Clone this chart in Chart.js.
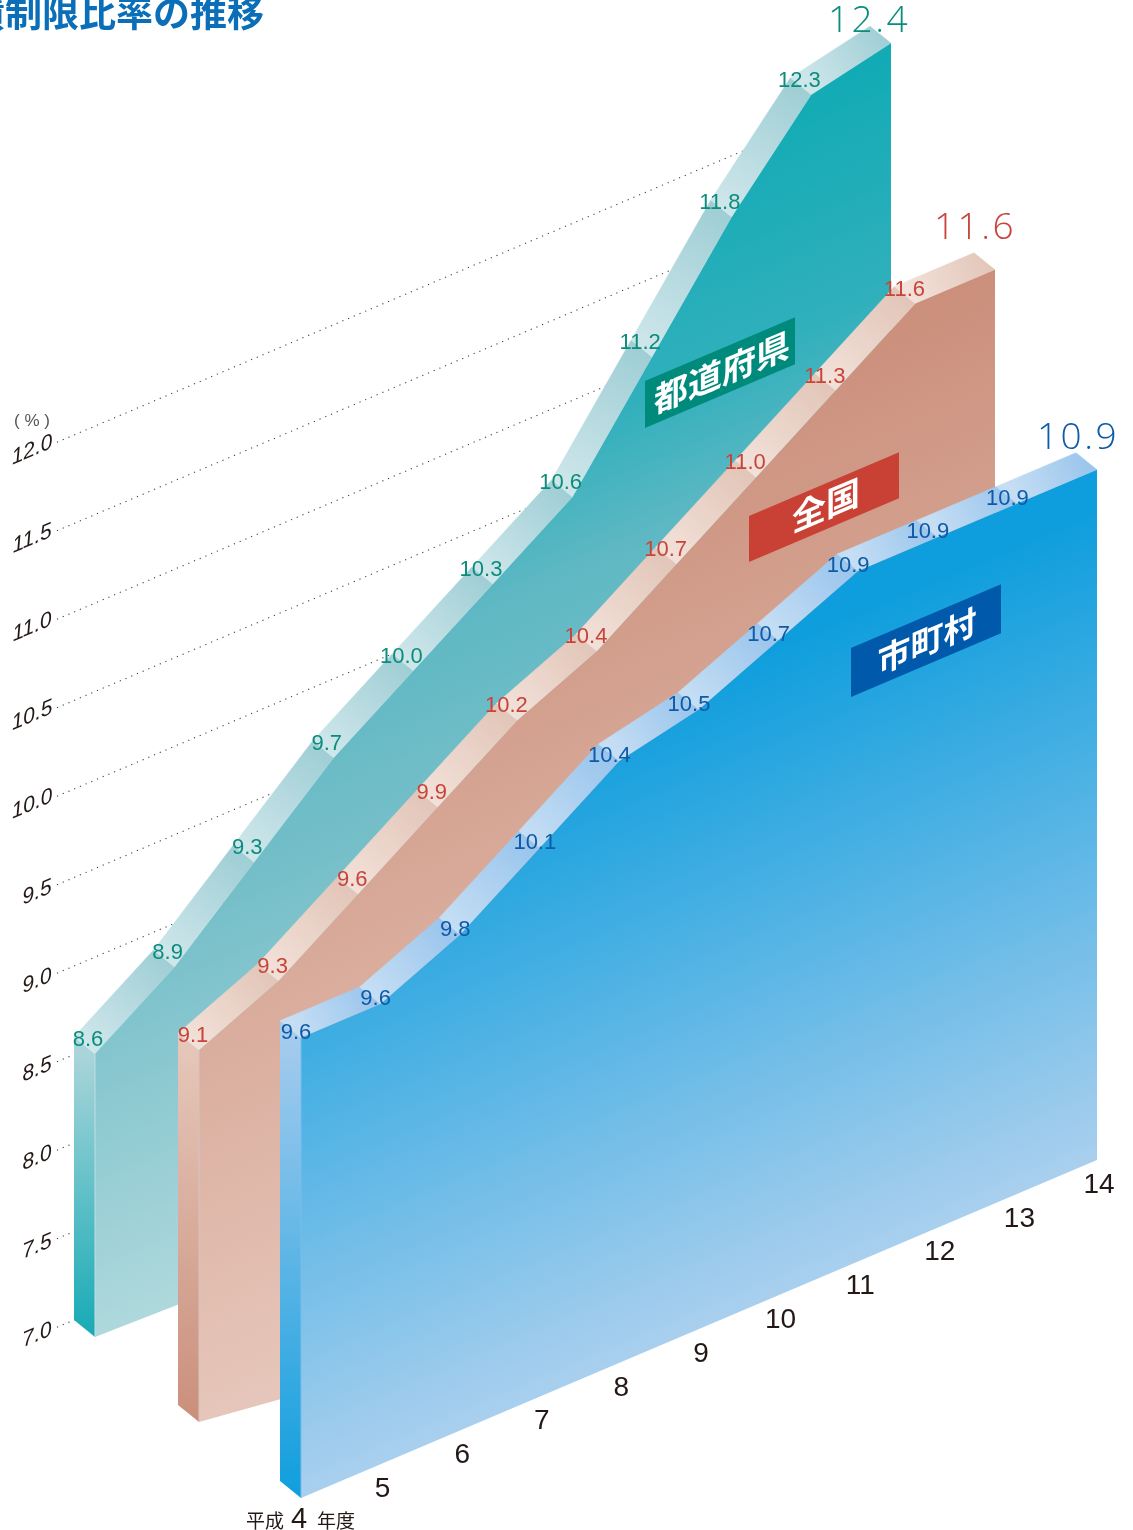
<!DOCTYPE html>
<html lang="ja">
<head>
<meta charset="utf-8">
<title>起債制限比率の推移</title>
<script src="https://cdn.jsdelivr.net/npm/chart.js@4/dist/chart.umd.js"></script>
<style>
  html, body { margin: 0; padding: 0; background: #fff; overflow: hidden; }
  canvas { display: block; }
</style>
</head>
<body>
<canvas id="isoChart" width="1133" height="1530"></canvas>
<script>
//DATA
const years = [4, 5, 6, 7, 8, 9, 10, 11, 12, 13, 14];
const prefectures = [8.6, 8.9, 9.3, 9.7, 10.0, 10.3, 10.6, 11.2, 11.8, 12.3, 12.4];
const national = [9.1, 9.3, 9.6, 9.9, 10.2, 10.4, 10.7, 11.0, 11.3, 11.6, 11.6];
const municipal = [9.6, 9.6, 9.8, 10.1, 10.4, 10.5, 10.7, 10.9, 10.9, 10.9, 10.9];
const valueTicks = [7.0, 7.5, 8.0, 8.5, 9.0, 9.5, 10.0, 10.5, 11.0, 11.5, 12.0];

const SLOPE = 338 / 796; //depth of the floor per pixel of x
const DEPTH = { x: -21, y: -17 };
const GRAD = { x: 0.39, y: 0.92 };
const SANS = '"Liberation Sans", Arial, sans-serif';
const CJK = '"Noto Sans CJK JP", sans-serif';

//LOOK OF EACH WALL
const walls = {
  "都道府県": {
    ox: 95, base: 1337, baseSlope: 0.39, text: "#0b8c7c", seam: "#bfe0e3",
    face: [400, 1267, [[0, "#12abb5"], [0.25, "#30b0bc"], [0.4, "#5eb8c3"], [0.6, "#76bfc9"], [1, "#aed8dc"]]],
    side: ["#a9d5da", "#17aab5"], band: ["#cfe7eb", "#9fced5"],
    labelOff: [-12, -14], big: [869, 21],
  },
  "全国": {
    ox: 199, base: 1422, baseSlope: 0.28, text: "#c8433a", seam: "#d6c4bd",
    face: [630, 1385, [[0, "#cb8f7b"], [1, "#e6c6ba"]]],
    side: ["#e5c6b9", "#ca8f7b"], band: ["#f2e1d9", "#e2c5b8"],
    labelOff: [-11, -14], big: [975, 228],
  },
  "市町村": {
    ox: 301, base: 1498, baseSlope: SLOPE, text: "#0f5aa8", seam: "#7dbce8",
    face: [900, 1495, [[0, "#0f9edd"], [1, "#a9cfee"]]],
    side: ["#a5cbee", "#0f9edd"], band: ["#c5def4", "#98c4ec"],
    labelOff: [-10, -5], big: [1078, 438],
  },
};

function iso(px, py, wall, chart) {
  //MOVE A SCALE PIXEL ONTO THE SLANTED WALL
  const bottom = chart.scales.y.getPixelForValue(7);
  return { x: px + wall.ox, y: py - SLOPE * px + (wall.base - bottom) };
}

function faceGradient(ctx, t0, t1, stops) {
  const g = ctx.createLinearGradient(GRAD.x * t0, GRAD.y * t0, GRAD.x * t1, GRAD.y * t1);
  stops.forEach((s) => g.addColorStop(s[0], s[1]));
  return g;
}

function poly(ctx, pts) {
  ctx.beginPath();
  pts.forEach((p, i) => (i ? ctx.lineTo(p.x, p.y) : ctx.moveTo(p.x, p.y)));
  ctx.closePath();
}

const back = (p) => ({ x: p.x + DEPTH.x, y: p.y + DEPTH.y });

const LineController = Chart.registry.getController("line");

class WallController extends LineController {
  draw() {
    const chart = this.chart;
    const ctx = chart.ctx;
    const wall = walls[this.getDataset().label];
    const pts = this.getMeta().data.map((p) => iso(p.x, p.y, wall, chart));
    const first = pts[0];
    const last = pts[pts.length - 1];
    const floorL = { x: first.x, y: wall.base };
    const floorR = { x: last.x, y: wall.base - wall.baseSlope * (last.x - first.x) };

    ctx.save();
    //SIDE
    let g = ctx.createLinearGradient(0, first.y, 0, wall.base);
    g.addColorStop(0, wall.side[0]);
    g.addColorStop(1, wall.side[1]);
    ctx.fillStyle = g;
    poly(ctx, [back(first), first, floorL, back(floorL)]);
    ctx.fill();

    //TOP BAND, ONE GRADIENT PER SEGMENT
    for (let i = 0; i < pts.length - 1; i++) {
      const a = pts[i];
      const b = pts[i + 1];
      g = ctx.createLinearGradient(a.x, a.y, b.x, b.y);
      g.addColorStop(0, wall.band[0]);
      g.addColorStop(1, wall.band[1]);
      ctx.fillStyle = g;
      ctx.strokeStyle = g;
      ctx.lineWidth = 0.5;
      poly(ctx, [a, b, back(b), back(a)]);
      ctx.fill();
      ctx.stroke();
    }

    //FRONT
    ctx.fillStyle = faceGradient(ctx, ...wall.face);
    poly(ctx, [...pts, floorR, floorL]);
    ctx.fill();

    ctx.strokeStyle = wall.seam;
    ctx.lineWidth = 1;
    ctx.beginPath();
    ctx.moveTo(first.x, first.y);
    ctx.lineTo(floorL.x, floorL.y);
    ctx.stroke();
    ctx.restore();
  }
}
WallController.id = "wall";
WallController.defaults = LineController.defaults;
Chart.register(WallController);

function shearedText(ctx, text, x, y, font, color, lean) {
  ctx.save();
  ctx.translate(x, y);
  ctx.transform(1, -SLOPE, lean || 0, 1, 0, 0);
  ctx.font = font;
  ctx.fillStyle = color;
  ctx.textAlign = "center";
  ctx.textBaseline = "middle";
  ctx.fillText(text, 0, 0);
  ctx.restore();
}

function plainText(ctx, text, x, y, font, color, align) {
  ctx.font = font;
  ctx.fillStyle = color;
  ctx.textAlign = align || "center";
  ctx.textBaseline = "middle";
  ctx.fillText(text, x, y);
}

function tag(ctx, text, x, y, w, h, color, size, centre) {
  //SLANTED NAME PLATE ON A WALL
  ctx.fillStyle = color;
  ctx.beginPath();
  ctx.moveTo(x, y);
  ctx.lineTo(x + w, y - SLOPE * w);
  ctx.lineTo(x + w, y - SLOPE * w + h);
  ctx.lineTo(x, y + h);
  ctx.closePath();
  ctx.fill();
  shearedText(ctx, text, centre[0], centre[1], "700 " + size + "px " + CJK, "#fff");
}

const gridPlugin = {
  id: "grid",
  beforeDatasetsDraw(chart) {
    //DOTTED VALUE LINES RUN ALONG THE BACK OF THE FIRST WALL
    const ctx = chart.ctx;
    const wall = walls["都道府県"];
    ctx.save();
    ctx.strokeStyle = "#444";
    ctx.lineWidth = 1.1;
    ctx.setLineDash([1.2, 5]);
    valueTicks.forEach((v) => {
      const py = chart.scales.y.getPixelForValue(v);
      const a = back(iso(-17, py, wall, chart));
      const b = back(iso(chart.scales.x.getPixelForValue(10), py, wall, chart));
      ctx.beginPath();
      ctx.moveTo(a.x, a.y);
      ctx.lineTo(b.x, b.y);
      ctx.stroke();
    });
    ctx.restore();
  },
  afterDatasetsDraw(chart) {
    const ctx = chart.ctx;
    const xs = chart.scales.x;
    const ys = chart.scales.y;
    ctx.save();

    //POINT LABELS AND THE LARGE LAST VALUE
    chart.data.datasets.forEach((ds, d) => {
      const wall = walls[ds.label];
      const meta = chart.getDatasetMeta(d);
      meta.data.forEach((p, i) => {
        if (i === meta.data.length - 1) return;
        const q = iso(p.x, p.y, wall, chart);
        //THE FIRST LABELS SIT A LITTLE CLOSER TO THE CORNER
        const nudge = i < 4 ? 5 : 0;
        plainText(ctx, ds.data[i].toFixed(1), q.x + wall.labelOff[0] + nudge, q.y + wall.labelOff[1], "22px " + SANS, wall.text);
      });
      ctx.save();
      ctx.letterSpacing = "2.5px";
      plainText(ctx, ds.data[ds.data.length - 1].toFixed(1), wall.big[0], wall.big[1], '300 37px "Open Sans", ' + SANS, wall.text);
      ctx.restore();
    });

    //VALUE AXIS
    const gridWall = walls["都道府県"];
    valueTicks.forEach((v) => {
      const q = back(iso(-17, ys.getPixelForValue(v), gridWall, chart));
      const cx = v >= 10 ? 32 : 37;
      shearedText(ctx, v.toFixed(1), cx, q.y + 8, "italic 21px " + SANS, "#231815", 0.1);
    });
    plainText(ctx, "( % )", 32, 421, "17px " + SANS, "#555");

    //YEAR AXIS, UNDER THE FRONT WALL
    const front = walls["市町村"];
    years.forEach((y, i) => {
      if (i === 0) return;
      const px = xs.getPixelForValue(i);
      const q = iso(px, ys.getPixelForValue(7), front, chart);
      plainText(ctx, String(y), q.x + 2, q.y + 25, "28px " + SANS, "#231815");
    });
    plainText(ctx, "平成", 265, 1521, "19px " + CJK, "#231815");
    plainText(ctx, String(years[0]), 299, 1520, "29px " + SANS, "#231815");
    plainText(ctx, "年度", 336, 1521, "19px " + CJK, "#231815");

    //NAME PLATES
    tag(ctx, "都道府県", 645, 381, 150, 47, "#008a7c", 34, [722, 372]);
    tag(ctx, "全国", 749, 516, 150, 46, "#c94134", 34, [826, 505]);
    tag(ctx, "市町村", 851, 648, 150, 49, "#0059ab", 33, [927, 641]);

    //TITLE, CUT BY THE PAGE EDGE LIKE THE SCAN
    ctx.font = "700 37px " + CJK;
    ctx.fillStyle = "#0a6fb8";
    ctx.textAlign = "right";
    ctx.textBaseline = "alphabetic";
    ctx.fillText("起債制限比率の推移", 264, 27);
    ctx.restore();
  },
};

new Chart(document.getElementById("isoChart"), {
  type: "wall",
  data: {
    labels: years,
    datasets: [
      { label: "都道府県", data: prefectures, order: 3, clip: false },
      { label: "全国", data: national, order: 2, clip: false },
      { label: "市町村", data: municipal, order: 1, clip: false },
    ],
  },
  options: {
    responsive: false,
    animation: false,
    layout: { autoPadding: false, padding: { left: 0, right: 337, top: 20, bottom: 448 } },
    plugins: { legend: { display: false }, tooltip: { enabled: false } },
    scales: {
      x: { type: "category", display: false, offset: false },
      y: { type: "linear", display: false, min: 7, max: 13 },
    },
  },
  plugins: [gridPlugin],
});
</script>
</body>
</html>
